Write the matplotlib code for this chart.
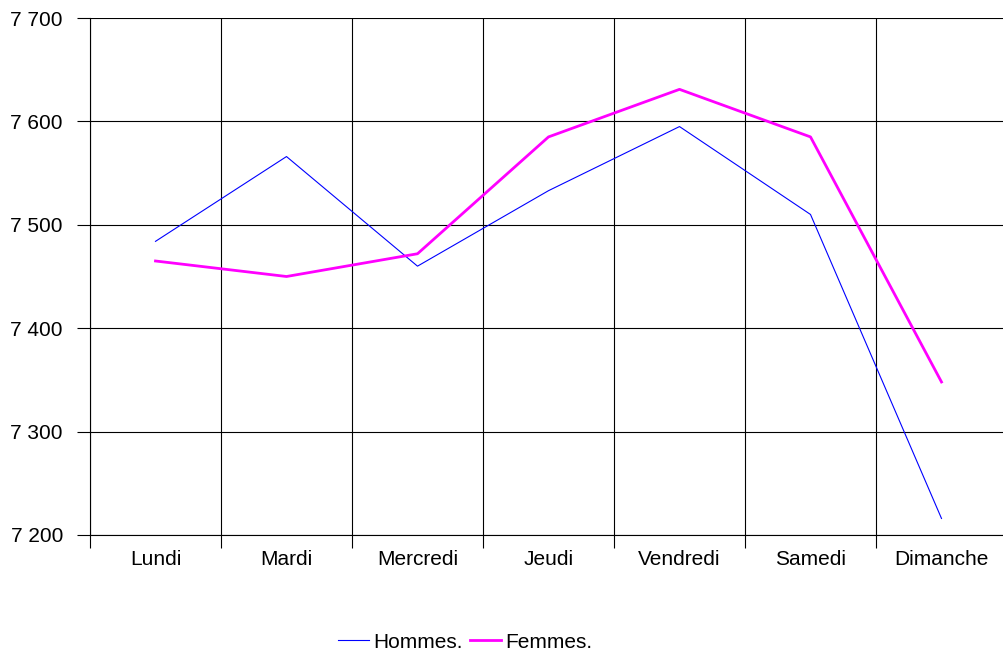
import matplotlib
matplotlib.use("Agg")
import matplotlib.pyplot as plt
import numpy as np

plt.rcParams['font.family'] = ['Liberation Sans', 'DejaVu Sans']

DAYS = ["Lundi", "Mardi", "Mercredi", "Jeudi", "Vendredi", "Samedi", "Dimanche"]
HOMMES = [7484, 7566, 7460, 7533, 7595, 7510, 7216]
FEMMES = [7465, 7450, 7472, 7585, 7631, 7585, 7348]
Y_TICKS = [7200, 7300, 7400, 7500, 7600, 7700]
Y_LABELS = ["7 200", "7 300", "7 400", "7 500", "7 600", "7 700"]

FS = 15

fig = plt.figure(figsize=(10.04, 6.55), dpi=100)
ax = fig.add_axes([90 / 1004, 120 / 655, 917 / 1004, 517 / 655])

x = np.arange(len(DAYS))
ax.plot(x, HOMMES, color="#0000FF", lw=0.8, label="Hommes.", zorder=3)
ax.plot(x, FEMMES, color="#FF00FF", lw=2.0, label="Femmes.", zorder=3)

ax.set_xlim(-0.5, len(DAYS) - 0.5)
ax.set_ylim(7200, 7700)

# boundaries as major ticks (grid), labels at centres as minor ticks
ax.set_xticks(np.arange(-0.5, len(DAYS), 1.0))
ax.set_xticklabels([])
ax.set_xticks(x, minor=True)
ax.set_xticklabels(DAYS, minor=True, fontsize=FS)
ax.tick_params(axis="x", which="major", length=9.5, width=0.8, color="black")
ax.tick_params(axis="x", which="minor", length=0, pad=11)

ax.set_yticks(Y_TICKS)
ax.set_yticklabels(Y_LABELS, fontsize=FS)
ax.tick_params(axis="y", length=9.5, width=0.8, color="black", pad=10)

ax.grid(True, which="major", color="black", lw=0.8)
for s in ["top", "right"]:
    ax.spines[s].set_visible(False)
ax.spines["left"].set_linewidth(0.8)
ax.spines["bottom"].set_linewidth(0.8)
ax.set_axisbelow(True)

fig.legend(loc="center", bbox_to_anchor=(465 / 1004, 1 - 642 / 655), ncol=2,
           frameon=False, fontsize=FS, handlelength=1.5, handletextpad=0.2,
           columnspacing=0.35)

fig.savefig("out.png", dpi=100)
